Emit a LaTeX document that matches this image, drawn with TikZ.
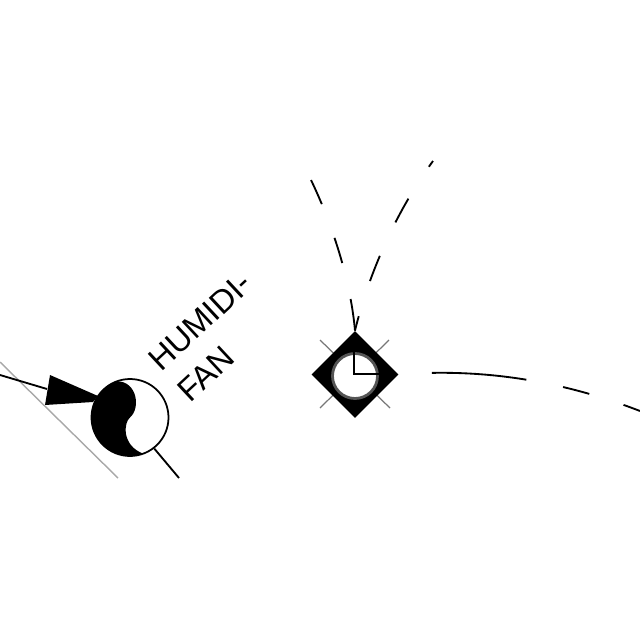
\documentclass[tikz,border=0pt]{standalone}
\usepackage{fontspec}
\setmainfont{Liberation Sans}
\usetikzlibrary{positioning,calc,shapes.geometric}
\definecolor{HVACink}{HTML}{000000}
\definecolor{HVACgrey}{HTML}{A8A8A8}
\definecolor{HVACtick}{HTML}{777777}
\definecolor{HVACring}{HTML}{555555}
\tikzset{
  ductline/.style={draw=HVACink, line width=1.05pt},
  edgeline/.style={draw=HVACgrey, line width=0.8pt},
  tickline/.style={draw=HVACtick, line width=0.7pt},
  handline/.style={draw=HVACink, line width=1.2pt},
  fanbody/.style={circle, draw=HVACink, fill=white, line width=1pt, minimum size=77*0.2mm, inner sep=0pt},
  clockbody/.style={diamond, fill=HVACink, minimum size=87*0.2mm, inner sep=0pt, aspect=1},
  clockface/.style={circle, draw=HVACring, fill=white, line width=1.6pt, minimum size=45*0.2mm, inner sep=0pt},
  labeltext/.style={align=left, font=\fontsize{18.5}{24}\selectfont, text=HVACink, inner sep=0pt, rotate=43, anchor=south west}
}

\begin{document}
\begin{tikzpicture}[x=0.2mm, y=-0.2mm]
  \useasboundingbox (0,0) rectangle (640,640);
  % outline and inlet
  \coordinate (edgeA) at (0,362); \coordinate (edgeB) at (118,478);
  \draw[edgeline] (edgeA) -- (edgeB);
  \coordinate (inlet) at (0,375); \coordinate (nozzleBase) at (47,389);
  \draw[ductline] (inlet) -- (nozzleBase);
  % fan
  \node[fanbody] (fan) at (130,417.5) {};
  \coordinate (fanout) at (179,478);
  \draw[ductline] (fan.-52) -- (fanout);
  \fill[HVACink] (50,375) -- (98,396) -- (93,402) -- (45,405) -- cycle;
  \fill[HVACink] ($(fan)+(250:38.5)$) arc[start angle=250, end angle=70, radius=38.5]
    .. controls (121,445) and (124,422) .. (fan.center)
    .. controls (141,408) and (137,381) .. cycle;
  \node[labeltext] (fanlabel) at (190,404) {HUMIDI-\\FAN};
  % clock
  \coordinate (tickA) at (320,340); \coordinate (tickB) at (390,408);
  \coordinate (tickC) at (389,340); \coordinate (tickD) at (320,408);
  \draw[tickline] (tickA) -- (tickB);
  \draw[tickline] (tickC) -- (tickD);
  \node[clockbody] (clock) at (355,374.5) {};
  \node[clockface] (face) at (355,376) {};
  \coordinate (handtop) at (354,345); \coordinate (handright) at (380,374);
  \draw[handline] (handtop) -- (354,374) -- (handright);
  % dashed branches
  \coordinate (branchL) at (311,180);
  \coordinate (branchR) at (433,161);
  \coordinate (branchE) at (640,411);
  \draw[ductline, dash pattern=on 18.2pt off 21pt on 15pt off 20.5pt on 15pt off 40pt]
    (clock.north) .. controls (351,285) and (335,230) .. (branchL);
  \draw[ductline, dash pattern=on 8.5pt off 21pt on 15.4pt off 21pt on 15.4pt off 21.6pt on 5pt off 20pt]
    (clock.north) .. controls (366,285) and (390,220) .. (branchR);
  \draw[ductline, dash pattern=on 0pt off 18.8pt on 54pt off 21.3pt on 15.4pt off 20.5pt on 15pt off 20pt]
    (clock.east) .. controls (480,368) and (560,380) .. (branchE);
\end{tikzpicture}
\end{document}
